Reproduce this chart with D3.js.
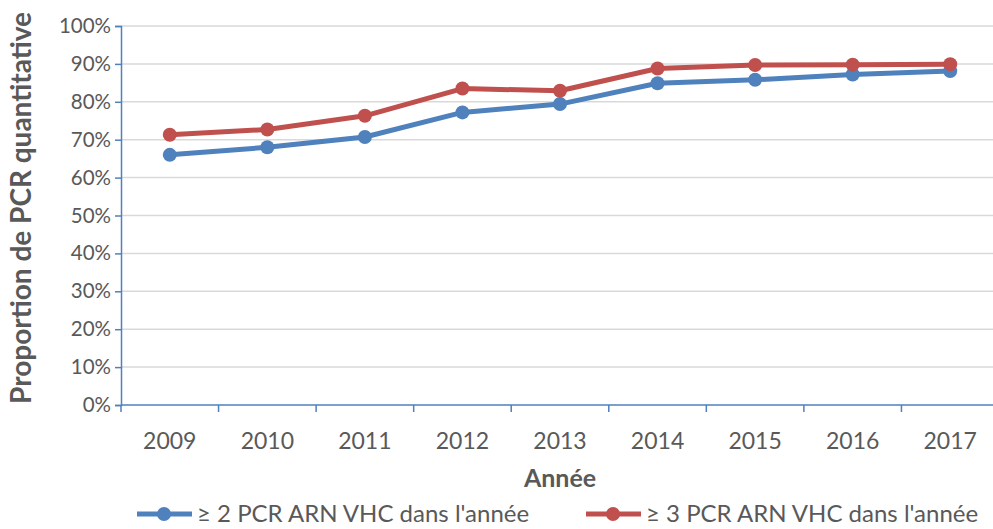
<!DOCTYPE html>
<html>
<head>
<meta charset="utf-8">
<script src="https://cdn.jsdelivr.net/npm/d3@7"></script>
<style>
  body { margin: 0; background: #fff; }
  text { font-family: Lato, "Open Sans", sans-serif; fill: #595959; }
</style>
</head>
<body>
<div id="chart"></div>
<script>

// data
var years = ["2009", "2010", "2011", "2012", "2013", "2014", "2015", "2016", "2017"];
var twoPcr = [66.0, 68.0, 70.7, 77.2, 79.4, 84.9, 85.8, 87.2, 88.1];
var threePcr = [71.3, 72.7, 76.3, 83.5, 82.9, 88.8, 89.7, 89.8, 89.9];
var seriesNames = ["\u2265 2 PCR ARN VHC dans l'ann\u00e9e", "\u2265 3 PCR ARN VHC dans l'ann\u00e9e"];
var seriesColors = ["#4F81BD", "#C0504D"];
var yTicks = [0, 10, 20, 30, 40, 50, 60, 70, 80, 90, 100];

var W = 993, H = 529;
var margin = { top: 26, right: -6, bottom: 124, left: 121 };
var width = W - margin.left - margin.right;
var height = H - margin.top - margin.bottom;

var svg = d3.select("#chart").append("svg")
    .attr("width", W)
    .attr("height", H)
    .append("g")
    .attr("transform", "translate(" + margin.left + "," + margin.top + ")");

var x = d3.scaleBand()
    .domain(years)
    .range([0, width])
    .padding(0);

var y = d3.scaleLinear()
    .domain([0, 100])
    .range([height, 0]);

// gridlines
svg.selectAll(".grid")
    .data(yTicks.filter(function(d) { return d > 0; }))
    .enter().append("line")
    .attr("class", "grid")
    .attr("x1", 0)
    .attr("x2", width)
    .attr("y1", function(d) { return y(d); })
    .attr("y2", function(d) { return y(d); })
    .attr("stroke", "#D9D9D9")
    .attr("stroke-width", 1.5);

// y axis
var yAxis = d3.axisLeft(y)
    .tickValues(yTicks)
    .tickSize(6)
    .tickPadding(4)
    .tickFormat(function(d) { return d + "%"; });

var yg = svg.append("g").attr("class", "y-axis").call(yAxis);
yg.select(".domain").attr("stroke", "#4F81BD").attr("stroke-width", 1.5);
yg.selectAll(".tick line").attr("stroke", "#4F81BD").attr("stroke-width", 1.5);
yg.selectAll(".tick text").style("font-size", "20.5px").style("fill", "#595959");

// x axis line + ticks at category boundaries
var xg = svg.append("g").attr("class", "x-axis");
xg.append("line")
    .attr("x1", 0).attr("x2", width)
    .attr("y1", height).attr("y2", height)
    .attr("stroke", "#4F81BD").attr("stroke-width", 1.5);

var bounds = years.map(function(d) { return x(d); });
bounds.push(width);
xg.selectAll(".xtick")
    .data(bounds)
    .enter().append("line")
    .attr("class", "xtick")
    .attr("x1", function(d) { return d; })
    .attr("x2", function(d) { return d; })
    .attr("y1", height)
    .attr("y2", height + 7)
    .attr("stroke", "#4F81BD").attr("stroke-width", 1.5);

xg.selectAll(".xlabel")
    .data(years)
    .enter().append("text")
    .attr("class", "xlabel")
    .attr("x", function(d) { return x(d) + x.bandwidth() / 2; })
    .attr("y", height + 44)
    .attr("text-anchor", "middle")
    .style("font-size", "23px")
    .text(function(d) { return d; });

// axis titles
svg.append("text")
    .attr("x", x("2013") + x.bandwidth() / 2)
    .attr("y", height + 82)
    .attr("text-anchor", "middle")
    .style("font-size", "25px")
    .style("font-weight", "bold")
    .text("Ann\u00e9e");

svg.append("text")
    .attr("transform", "translate(" + (-margin.left + 31) + "," + (208 - margin.top) + ") rotate(-90)")
    .attr("text-anchor", "middle")
    .style("font-size", "28px")
    .style("font-weight", "bold")
    .text("Proportion de PCR quantitative");

// lines
var line = d3.line()
    .x(function(d, i) { return x(years[i]) + x.bandwidth() / 2; })
    .y(function(d) { return y(d); });

var allSeries = [twoPcr, threePcr];

var groups = svg.selectAll(".series")
    .data(allSeries)
    .enter().append("g")
    .attr("class", "series");

groups.append("path")
    .attr("d", function(d) { return line(d); })
    .attr("fill", "none")
    .attr("stroke", function(d, i) { return seriesColors[i]; })
    .attr("stroke-width", 5)
    .attr("stroke-linejoin", "round");

groups.each(function(s, si) {
    d3.select(this).selectAll("circle")
        .data(s)
        .enter().append("circle")
        .attr("cx", function(d, i) { return x(years[i]) + x.bandwidth() / 2; })
        .attr("cy", function(d) { return y(d); })
        .attr("r", 7)
        .attr("fill", seriesColors[si]);
});

// legend
var legendX = [137, 586];
var legend = svg.selectAll(".legend")
    .data(seriesNames)
    .enter().append("g")
    .attr("class", "legend")
    .attr("transform", function(d, i) {
        return "translate(" + (legendX[i] - margin.left) + "," + (514 - margin.top) + ")";
    });

legend.append("line")
    .attr("x1", 0).attr("x2", 55)
    .attr("y1", 0).attr("y2", 0)
    .attr("stroke", function(d, i) { return seriesColors[i]; })
    .attr("stroke-width", 5);

legend.append("circle")
    .attr("cx", 27).attr("cy", 0).attr("r", 7)
    .attr("fill", function(d, i) { return seriesColors[i]; });

legend.append("text")
    .attr("x", 60)
    .attr("y", 8)
    .style("font-size", "24px")
    .text(function(d) { return d; });

</script>
</body>
</html>
